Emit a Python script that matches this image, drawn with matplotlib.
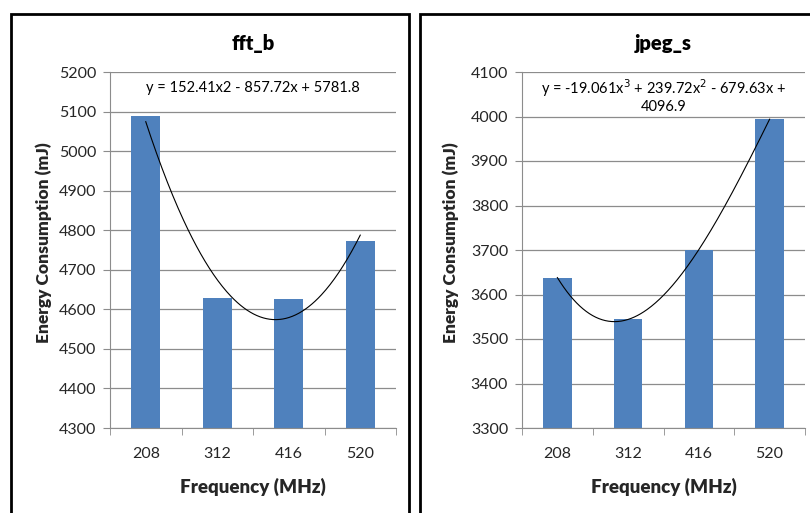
import numpy as np
import matplotlib.pyplot as plt
from matplotlib.patches import Rectangle

plt.rcParams['font.family'] = ['Lato', 'DejaVu Sans']

# data
freqs = ['208', '312', '416', '520']
fft_b = [5090, 4628, 4626, 4772]
jpeg_s = [3638, 3544, 3701, 3994]

fft_ylim = (4300, 5200)
jpeg_ylim = (3300, 4100)
fft_eq = 'y = 152.41x2 - 857.72x + 5781.8'
jpeg_eq = 'y = -19.061x$^3$ + 239.72x$^2$ - 679.63x +\n4096.9'

bar_color = '#4F81BD'
grid_color = '#8C8C8C'
text_color = '#262626'

fig = plt.figure(figsize=(8.1, 5.13), dpi=100)

# panel frames (they run off the bottom / right edge like the source)
fig.patches.append(Rectangle((11 / 810, -0.05), 398 / 810, 1 - 14 / 513 + 0.05,
                             transform=fig.transFigure, fill=False,
                             edgecolor='black', lw=2))
fig.patches.append(Rectangle((420 / 810, -0.05), 0.5, 1 - 14 / 513 + 0.05,
                             transform=fig.transFigure, fill=False,
                             edgecolor='black', lw=2))

ax1 = fig.add_axes([110 / 810, 1 - 428 / 513, 286 / 810, 356 / 513])
ax2 = fig.add_axes([522 / 810, 1 - 428 / 513, 283 / 810, 356 / 513])


def draw(ax, vals, ylim, title, eq, deg, eq_y, ylab_x):
    x = np.arange(1, len(vals) + 1)
    ax.bar(x, np.array(vals) - ylim[0], bottom=ylim[0], width=0.4,
           color=bar_color, zorder=2)
    # polynomial trendline fitted to the bars
    coef = np.polyfit(x, vals, deg)
    xs = np.linspace(1, len(vals), 200)
    ax.plot(xs, np.polyval(coef, xs), color='black', lw=0.8, zorder=3)

    ax.set_xlim(0.5, len(vals) + 0.5)
    ax.set_ylim(*ylim)
    ax.set_yticks(np.arange(ylim[0], ylim[1] + 1, 100))
    ax.yaxis.grid(True, color=grid_color, lw=0.9, zorder=0)
    ax.set_xticks(x)
    ax.set_xticklabels(freqs)
    ax.set_xticks(np.arange(0.5, len(vals) + 1), minor=True)
    ax.tick_params(axis='x', which='major', length=0, pad=14,
                   labelsize=11.5, labelcolor=text_color)
    ax.tick_params(axis='x', which='minor', length=5, color=grid_color)
    ax.tick_params(axis='y', length=5, color=grid_color, labelsize=11.5,
                   labelcolor=text_color, pad=5)
    for s in ['top', 'right']:
        ax.spines[s].set_visible(False)
    ax.spines['left'].set_color(grid_color)
    ax.spines['bottom'].set_color(grid_color)

    ax.set_title(title, fontsize=14.5, fontweight='heavy', color='black', pad=16)
    ax.set_xlabel('Frequency (MHz)', fontsize=13.5, fontweight='heavy',
                  color=text_color, labelpad=12)
    ax.set_ylabel('Energy Consumption (mJ)', fontsize=12.5, fontweight='heavy',
                  color=text_color)
    ax.yaxis.set_label_coords(ylab_x, 0.52)
    ax.text(0.5, eq_y, eq, transform=ax.transAxes, ha='center', va='top',
            fontsize=10.5, color='black', linespacing=1.1)


draw(ax1, fft_b, fft_ylim, 'fft_b', fft_eq, 2, 0.975, -58 / 286)
draw(ax2, jpeg_s, jpeg_ylim, 'jpeg_s', jpeg_eq, 3, 0.985, -63 / 283)

fig.savefig('out.png', dpi=100)
